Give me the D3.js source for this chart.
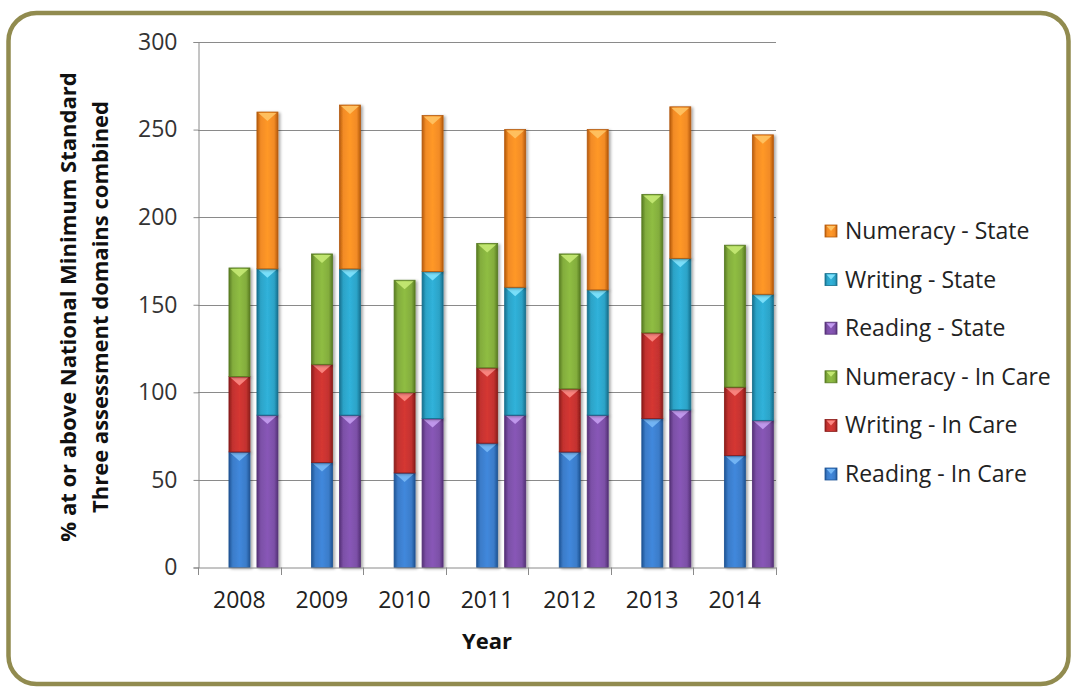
<!DOCTYPE html>
<html>
<head>
<meta charset="utf-8">
<script src="https://cdn.jsdelivr.net/npm/d3@7"></script>
<style>
  html, body { margin: 0; padding: 0; background: #ffffff; }
  svg { display: block; }
  text { font-family: "Open Sans", "DejaVu Sans", sans-serif; }
</style>
</head>
<body>
<svg id="chart" width="1073" height="687"></svg>
<script>
// ---- data ----
const years = ["2008", "2009", "2010", "2011", "2012", "2013", "2014"];
const readingInCare  = [66, 60, 54, 71, 66, 85, 64];
const writingInCare  = [43, 56, 46, 43, 36, 49, 39];
const numeracyInCare = [62, 63, 64, 71, 77, 79, 81];
const readingState   = [87, 87, 85, 87, 87, 90, 84];
const writingState   = [83.5, 83.5, 84, 73, 71.5, 86.5, 72];
const numeracyState  = [89.5, 93.5, 89, 90, 91.5, 86.5, 91];
const yTicks = [0, 50, 100, 150, 200, 250, 300];
const groups = ["In Care", "State"];
const legendOrder = ["Numeracy - State", "Writing - State", "Reading - State",
                     "Numeracy - In Care", "Writing - In Care", "Reading - In Care"];

// ---- series definitions ----
const series = [
  { name: "Reading - In Care",  group: "In Care", values: readingInCare,  base: "#3b7cc9", dark: "#1f5494", tri: "#7bbcf8" },
  { name: "Writing - In Care",  group: "In Care", values: writingInCare,  base: "#c3322f", dark: "#8a1d1b", tri: "#ff8f8a" },
  { name: "Numeracy - In Care", group: "In Care", values: numeracyInCare, base: "#83ad3d", dark: "#587b22", tri: "#c9ec78" },
  { name: "Reading - State",    group: "State",   values: readingState,   base: "#7c50a7", dark: "#553177", tri: "#c9a2f5" },
  { name: "Writing - State",    group: "State",   values: writingState,   base: "#2ca3c7", dark: "#17708e", tri: "#86e6ff" },
  { name: "Numeracy - State",   group: "State",   values: numeracyState,  base: "#f28b25", dark: "#b55a0c", tri: "#ffc768" }
];

const svg = d3.select("#chart");
const defs = svg.append("defs");

// gradients
series.forEach((s, i) => {
  const g = defs.append("linearGradient").attr("id", "grad" + i)
    .attr("x1", "0%").attr("x2", "100%").attr("y1", "0%").attr("y2", "0%");
  g.append("stop").attr("offset", "0%").attr("stop-color", s.dark);
  g.append("stop").attr("offset", "18%").attr("stop-color", s.base);
  g.append("stop").attr("offset", "50%").attr("stop-color", d3.color(s.base).brighter(0.25));
  g.append("stop").attr("offset", "82%").attr("stop-color", s.base);
  g.append("stop").attr("offset", "100%").attr("stop-color", s.dark);
});
const shadow = defs.append("filter").attr("id", "shadow").attr("x", "-20%").attr("y", "-5%").attr("width", "150%").attr("height", "115%");
shadow.append("feGaussianBlur").attr("in", "SourceAlpha").attr("stdDeviation", 1.5);
shadow.append("feOffset").attr("dx", 2).attr("dy", 1).attr("result", "b");
shadow.append("feComponentTransfer").append("feFuncA").attr("type", "linear").attr("slope", 0.35);
const merge = shadow.append("feMerge");
merge.append("feMergeNode");
merge.append("feMergeNode").attr("in", "SourceGraphic");

// frame
svg.append("rect")
  .attr("x", 8.5).attr("y", 13).attr("width", 1060).attr("height", 671)
  .attr("rx", 28).attr("ry", 28)
  .attr("fill", "#ffffff").attr("stroke", "#918b4f").attr("stroke-width", 4.5);

// scales
const x = d3.scaleBand().domain(years).range([198, 776]).paddingInner(0).paddingOuter(0);
const bw = x.bandwidth();
const sub = d3.scaleBand().domain(groups).range([0.375 * bw, 0.968 * bw]).paddingInner(0.25).paddingOuter(0);
const y = d3.scaleLinear().domain([0, 300]).range([567.5, 42]);

// gridlines
svg.append("g").selectAll("line").data(yTicks.filter(t => t > 0)).join("line")
  .attr("x1", 198).attr("x2", 776)
  .attr("y1", d => Math.round(y(d)) + 0.5).attr("y2", d => Math.round(y(d)) + 0.5)
  .attr("stroke", "#8a8a8a").attr("stroke-width", 1);

// y axis
const yAxis = d3.axisLeft(y).tickValues(yTicks).tickSize(5).tickPadding(16);
const gy = svg.append("g").attr("transform", "translate(198.5,0)").call(yAxis);
gy.select(".domain").attr("stroke", "#8a8a8a");
gy.selectAll(".tick line").attr("stroke", "#8a8a8a");
gy.selectAll(".tick text").attr("font-size", 23).attr("fill", "#333333");

// bars
const stackTotals = {};
series.forEach((s, i) => {
  s.values.forEach((v, j) => {
    const key = s.group + "|" + years[j];
    const y0 = stackTotals[key] || 0;
    const y1 = y0 + v;
    stackTotals[key] = y1;
    s.segs = s.segs || [];
    s.segs.push({ year: years[j], y0, y1 });
  });
});
const barW = sub.bandwidth();
series.forEach((s, i) => {
  const g = svg.append("g").attr("filter", "url(#shadow)");
  g.selectAll("rect").data(s.segs).join("rect")
    .attr("x", d => x(d.year) + sub(s.group))
    .attr("y", d => y(d.y1))
    .attr("width", barW)
    .attr("height", d => y(d.y0) - y(d.y1))
    .attr("fill", "url(#grad" + i + ")")
    .attr("stroke", s.dark).attr("stroke-width", 0.8);
  // top bevel triangle
  svg.append("g").selectAll("path").data(s.segs).join("path")
    .attr("d", d => {
      const x0 = x(d.year) + sub(s.group) + 1.5, x1 = x0 + barW - 3, yt = y(d.y1) + 1;
      const h = Math.min(8, (y(d.y0) - y(d.y1)) / 2);
      return `M${x0},${yt}L${x1},${yt}L${(x0 + x1) / 2},${yt + h}Z`;
    })
    .attr("fill", s.tri).attr("opacity", 0.85);
});

// x axis
const xAxis = d3.axisBottom(x).tickSize(0).tickPadding(24);
const gx = svg.append("g").attr("transform", "translate(0,567.5)").call(xAxis);
gx.select(".domain").attr("stroke", "#8a8a8a");
gx.selectAll(".tick text").attr("font-size", 23).attr("fill", "#222222");
// category boundary ticks
const bounds = years.map(yy => x(yy)).concat([x(years[years.length - 1]) + bw]);
svg.append("g").selectAll("line").data(bounds).join("line")
  .attr("x1", d => Math.round(d) + 0.5).attr("x2", d => Math.round(d) + 0.5)
  .attr("y1", 567.5).attr("y2", 575)
  .attr("stroke", "#8a8a8a");

// axis titles
svg.append("text")
  .attr("x", 487).attr("y", 649)
  .attr("text-anchor", "middle").attr("font-size", 22).attr("font-weight", "bold").attr("fill", "#111")
  .text("Year");
const yt = svg.append("text")
  .attr("transform", "translate(0,307) rotate(-90)")
  .attr("text-anchor", "middle").attr("font-size", 22).attr("font-weight", "bold").attr("fill", "#111");
yt.append("tspan").attr("x", 0).attr("y", 76).text("% at or above National Minimum Standard");
yt.append("tspan").attr("x", 0).attr("y", 108).text("Three assessment domains combined");

// legend
const byName = {};
series.forEach((s, i) => { byName[s.name] = { s, i }; });
const leg = svg.append("g");
legendOrder.forEach((name, k) => {
  const { s, i } = byName[name];
  const cy = 231 + k * 48.6;
  leg.append("rect").attr("x", 825).attr("y", cy - 6).attr("width", 12).attr("height", 12)
    .attr("fill", "url(#grad" + i + ")").attr("stroke", s.dark).attr("stroke-width", 0.8);
  leg.append("path")
    .attr("d", `M826.5,${cy - 5}L835.5,${cy - 5}L831,${cy}Z`)
    .attr("fill", s.tri).attr("opacity", 0.9);
  leg.append("text").attr("x", 845).attr("y", cy).attr("dy", "0.35em")
    .attr("font-size", 23).attr("fill", "#222222").text(name);
});
</script>
</body>
</html>
